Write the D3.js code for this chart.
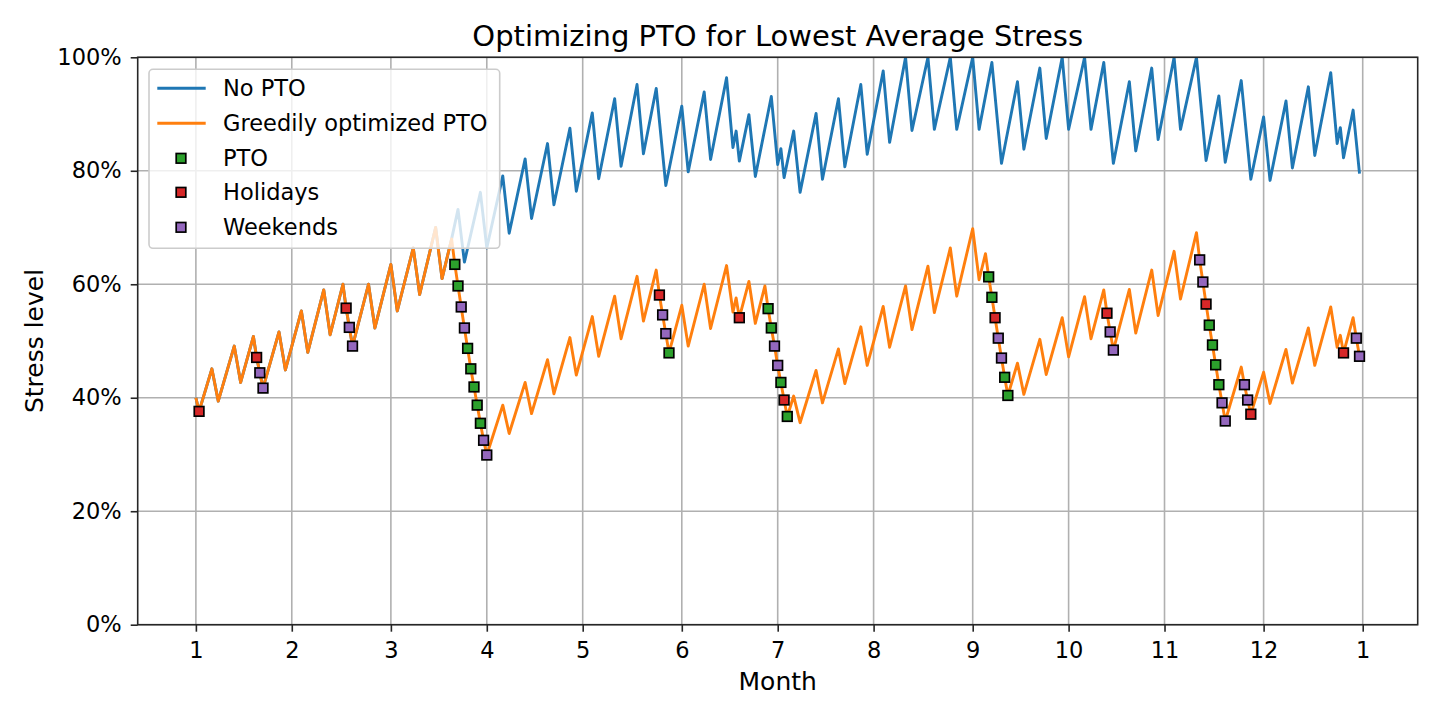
<!DOCTYPE html>
<html>
<head>
<meta charset="utf-8">
<script src="https://cdn.jsdelivr.net/npm/d3@7"></script>
<style>
html,body{margin:0;padding:0;background:#fff;}
svg{display:block;font-family:"DejaVu Sans","Liberation Sans",sans-serif;}
</style>
</head>
<body>
<svg id="chart" width="1440" height="720"></svg>
<script>
// ---------------- data (day index, stress %) ----------------
const optDays = [0,1,5,7,12,14,18,19,20,21,26,28,33,35,40,42,46,47,48,49,54,56,61,63,68,70,75,77,80,
  81,82,83,84,85,86,87,88,89,90,91,96,98,103,105,110,112,117,119,124,126,131,133,138,140,144,145,146,147,148,
  152,154,159,161,166,168,169,170,173,175,178,179,180,181,182,183,184,185,187,189,194,196,201,203,208,210,
  215,217,222,224,229,231,236,238,243,245,247,248,249,250,251,252,253,254,257,259,264,266,271,273,278,280,
  284,285,286,287,292,294,299,301,306,308,313,314,315,316,317,318,319,320,321,322,327,328,329,330,334,336,
  341,343,348,350,355,357,358,359,362,363,364];
const optStress = [40.0,37.6,45.1,39.4,49.1,42.7,50.8,47.1,44.4,41.7,51.6,44.9,55.3,48.0,59.0,51.1,60.0,55.8,52.4,49.1,60.0,52.3,63.5,55.3,66.4,58.2,70.0,61.0,68.0,
  63.5,59.7,56.0,52.3,48.7,45.1,41.9,38.7,35.5,32.5,29.9,38.7,33.7,42.7,37.2,46.7,40.7,50.6,44.0,54.3,47.3,57.9,50.4,61.4,53.5,62.5,58.1,54.6,51.3,47.9,
  56.3,49.1,60.0,52.2,63.3,55.1,57.6,54.1,60.5,53.1,59.7,55.7,52.3,49.1,45.7,42.7,39.6,36.7,40.3,35.6,44.8,39.1,48.6,42.5,52.5,45.7,
  56.1,48.9,59.7,52.0,63.2,55.0,66.4,57.9,69.8,60.8,65.4,61.3,57.7,54.1,50.5,47.0,43.6,40.4,46.1,40.6,50.3,44.1,54.1,47.2,57.8,50.4,
  59.0,54.9,51.6,48.4,59.1,51.4,62.5,54.5,65.8,57.4,69.1,64.3,60.4,56.5,52.8,49.3,45.8,42.3,39.1,35.9,45.4,42.3,39.6,37.1,44.5,39.0,
  48.5,42.6,52.3,45.7,56.0,48.9,51.0,47.9,54.1,50.5,47.3];

const noPtoDays = [0,1,5,7,12,14,18,19,20,21,26,28,33,35,40,42,46,47,48,49,54,56,61,63,68,70,75,77,80,
  82,84,89,91,96,98,103,105,110,112,117,119,124,126,131,133,138,140,144,147,152,154,159,161,166,168,169,170,
  173,175,180,182,183,184,187,189,194,196,201,203,208,210,215,217,222,224,229,231,236,238,243,245,249,252,
  257,259,264,266,271,273,278,280,284,287,292,294,299,301,306,308,313,316,320,322,327,330,334,336,341,343,
  348,350,355,357,358,359,362,364];
const noPtoStress = [40.0,37.6,45.1,39.4,49.1,42.7,50.8,47.1,44.4,41.7,51.6,44.9,55.3,48.0,59.0,51.1,60.0,55.8,52.4,49.1,60.0,52.3,63.5,55.3,66.4,58.2,70.0,61.0,68.0,
  73.2,63.9,76.2,66.4,79.1,69.0,82.1,71.6,84.8,74.0,87.5,76.4,90.2,78.6,92.7,80.8,95.2,83.0,94.5,77.4,91.4,79.8,93.9,82.0,96.4,84.1,87.0,81.7,
  89.9,79.0,93.1,81.1,83.9,78.8,87.0,76.2,90.1,78.5,92.7,80.7,95.2,82.9,97.6,85.0,100,87.1,100,87.3,100,87.3,100,87.3,99.1,81.3,
  95.7,83.8,98.1,85.7,100,87.3,100,87.3,99.1,81.3,95.7,83.5,98.1,85.5,100,87.3,100,81.8,93.2,81.5,95.9,78.5,89.5,78.3,92.3,80.5,
  94.8,82.7,97.3,84.8,87.6,82.3,90.7,79.5];

const ptoDays = [81,82,85,86,87,88,89,148,179,180,183,185,248,249,253,254,317,318,319,320];
const ptoStress = [63.5,59.7,48.7,45.1,41.9,38.7,35.5,47.9,55.7,52.3,42.7,36.7,61.3,57.7,43.6,40.4,52.8,49.3,45.8,42.3];

const holidayDays = [1,19,47,145,170,184,250,285,316,330,359];
const holidayStress = [37.6,47.1,55.8,58.1,54.1,39.6,54.1,54.9,56.5,37.1,47.9];

const weekendDays = [20,21,48,49,83,84,90,91,146,147,181,182,251,252,286,287,314,315,321,322,328,329,363,364];
const weekendStress = [44.4,41.7,52.4,49.1,56.0,52.3,32.5,29.9,54.6,51.3,49.1,45.7,50.5,47.0,51.6,48.4,64.3,60.4,39.1,35.9,42.3,39.6,50.5,47.3];

const monthTickDays = [0,30,61,91,121,152,182,212,243,273,303,334,365];
const monthTickLabels = ["1","2","3","4","5","6","7","8","9","10","11","12","1"];
const stressTicks = [0,20,40,60,80,100];

const seriesNames = ["No PTO","Greedily optimized PTO","PTO","Holidays","Weekends"];
const colors = {blue:"#1f77b4", orange:"#ff7f0e", green:"#2ca02c", red:"#d62728", purple:"#9467bd"};

// ---------------- layout ----------------
const L = 137.7, R = 1417.7, T = 57.3, B = 624.7;
const svg = d3.select("#chart");

const x = d3.scaleLinear().domain([-18.2, 382.2]).range([L, R]);
const y = d3.scaleLinear().domain([0, 100]).range([B, T]);

// grid
const grid = svg.append("g").attr("stroke", "#b0b0b0").attr("stroke-width", 1.6);
grid.selectAll("line.vx").data(monthTickDays).join("line")
  .attr("x1", d => x(d)).attr("x2", d => x(d)).attr("y1", T).attr("y2", B);
grid.selectAll("line.hy").data(stressTicks).join("line")
  .attr("x1", L).attr("x2", R).attr("y1", d => y(d)).attr("y2", d => y(d));

// clip
svg.append("clipPath").attr("id", "clip").append("rect")
  .attr("x", L).attr("y", T).attr("width", R - L).attr("height", B - T);

const line = d3.line().x(d => x(d[0])).y(d => y(d[1]));
const plot = svg.append("g").attr("clip-path", "url(#clip)");
const lw = 2.9;

plot.append("path").datum(d3.zip(noPtoDays, noPtoStress))
  .attr("d", line).attr("fill", "none").attr("stroke", colors.blue)
  .attr("stroke-width", lw).attr("stroke-linejoin", "round");
plot.append("path").datum(d3.zip(optDays, optStress))
  .attr("d", line).attr("fill", "none").attr("stroke", colors.orange)
  .attr("stroke-width", lw).attr("stroke-linejoin", "round");

const ms = 9.6;
function markers(days, vals, color) {
  plot.append("g").selectAll("rect").data(d3.zip(days, vals)).join("rect")
    .attr("x", d => x(d[0]) - ms / 2).attr("y", d => y(d[1]) - ms / 2)
    .attr("width", ms).attr("height", ms)
    .attr("fill", color).attr("stroke", "#000").attr("stroke-width", 1.7);
}
markers(ptoDays, ptoStress, colors.green);
markers(holidayDays, holidayStress, colors.red);
markers(weekendDays, weekendStress, colors.purple);

// axes
const fontTick = 22.5;
const xAxis = d3.axisBottom(x).tickValues(monthTickDays)
  .tickFormat((d, i) => monthTickLabels[i]).tickSize(7).tickPadding(10);
const gx = svg.append("g").attr("transform", `translate(0,${B})`).call(xAxis);
const yAxis = d3.axisLeft(y).tickValues(stressTicks)
  .tickFormat(d => d + "%").tickSize(7).tickPadding(9);
const gy = svg.append("g").attr("transform", `translate(${L},0)`).call(yAxis);
[gx, gy].forEach(g => {
  g.select(".domain").remove();
  g.selectAll(".tick line").attr("stroke", "#262626").attr("stroke-width", 1.6);
  g.selectAll(".tick text").attr("fill", "#000").style("font-size", fontTick + "px")
    .style("font-family", "'DejaVu Sans', sans-serif");
});

// spines
svg.append("rect").attr("x", L).attr("y", T).attr("width", R - L).attr("height", B - T)
  .attr("fill", "none").attr("stroke", "#262626").attr("stroke-width", 1.6);

// labels
svg.append("text").attr("x", (L + R) / 2).attr("y", 46).attr("text-anchor", "middle")
  .style("font-size", "29px").attr("fill", "#000").text("Optimizing PTO for Lowest Average Stress");
svg.append("text").attr("x", (L + R) / 2).attr("y", 690).attr("text-anchor", "middle")
  .style("font-size", "25px").attr("fill", "#000").text("Month");
svg.append("text").attr("transform", `translate(43,${(T + B) / 2}) rotate(-90)`)
  .attr("text-anchor", "middle").style("font-size", "25px").attr("fill", "#000").text("Stress level");

// legend
const lg = svg.append("g");
lg.append("rect").attr("x", 149).attr("y", 69.3).attr("width", 350.7).attr("height", 179)
  .attr("rx", 4).attr("fill", "#fff").attr("fill-opacity", 0.8)
  .attr("stroke", "#cccccc").attr("stroke-width", 1.6);
const rowY = [88.3, 123.3, 158.3, 192.3, 227.3];
const legendKinds = [
  {type: "line", color: colors.blue},
  {type: "line", color: colors.orange},
  {type: "marker", color: colors.green},
  {type: "marker", color: colors.red},
  {type: "marker", color: colors.purple}
];
legendKinds.forEach((k, i) => {
  if (k.type === "line") {
    lg.append("line").attr("x1", 157.3).attr("x2", 205.7).attr("y1", rowY[i]).attr("y2", rowY[i])
      .attr("stroke", k.color).attr("stroke-width", lw);
  } else {
    lg.append("rect").attr("x", 181 - ms / 2).attr("y", rowY[i] - ms / 2).attr("width", ms).attr("height", ms)
      .attr("fill", k.color).attr("stroke", "#000").attr("stroke-width", 1.7);
  }
  lg.append("text").attr("x", 223).attr("y", rowY[i]).attr("dy", "0.36em")
    .style("font-size", fontTick + "px").attr("fill", "#000").text(seriesNames[i]);
});
</script>
</body>
</html>
